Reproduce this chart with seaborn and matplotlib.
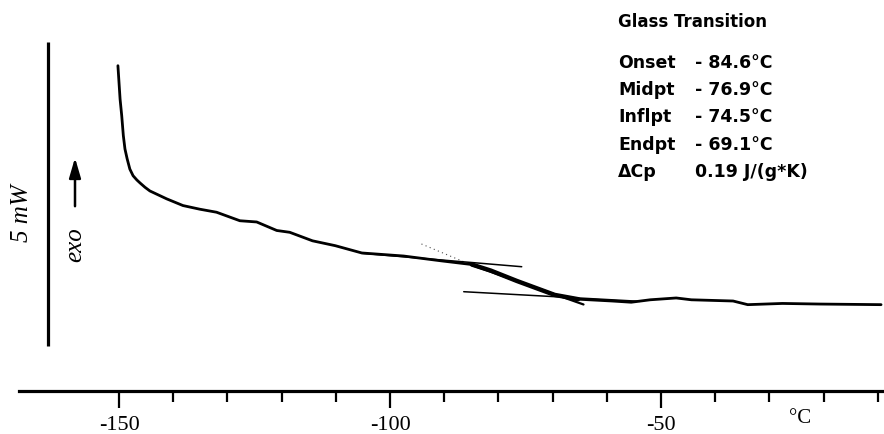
import numpy as np
import pandas as pd
import matplotlib
matplotlib.use("Agg")
import matplotlib.pyplot as plt
from matplotlib.ticker import FixedLocator
import seaborn as sns

# ---- data ----
temp_c = [-150.2, -149.8, -149.5, -149.2, -148.9, -148.5, -148.0, -147.4, -146.7,
          -146.1, -145.2, -144.3, -141.2, -138.2, -135.1, -132.0, -127.7, -124.6,
          -120.9, -118.5, -114.3, -110.1, -105.2, -97.5, -90.5, -84.9, -81.4, -76.6,
          -69.6, -65.3, -59.0, -55.5, -52.0, -47.2, -44.4, -36.7, -34.0, -27.6,
          -20.7, -9.4]
heat_flow_mw = [4.61, 4.06, 3.79, 3.46, 3.24, 3.08, 2.91, 2.80, 2.73,
                2.68, 2.61, 2.55, 2.42, 2.31, 2.25, 2.20, 2.06, 2.04,
                1.90, 1.87, 1.73, 1.65, 1.53, 1.48, 1.40, 1.34, 1.24, 1.07,
                0.84, 0.77, 0.74, 0.72, 0.76, 0.79, 0.76, 0.74, 0.68, 0.70,
                0.69, 0.68]

# tangent construction lines (T, mW)
upper_tan_t = [-105.2, -75.7]
upper_tan_y = [1.525, 1.304]
lower_tan_t = [-86.4, -53.9]
lower_tan_y = [0.893, 0.735]
infl_tan_t = [-94.2, -84.9, -64.3]
infl_tan_y = [1.678, 1.330, 0.683]

major_ticks = [-150, -100, -50]
minor_ticks = [-140, -130, -120, -110, -90, -80, -70, -60, -40, -30, -20, -10]
scale_bar_mw = [0, 5]

result_names = ["Onset", "Midpt", "Inflpt", "Endpt", "\u0394Cp"]
result_values = ["- 84.6\u00b0C", "- 76.9\u00b0C", "- 74.5\u00b0C", "- 69.1\u00b0C", "0.19 J/(g*K)"]

df = pd.DataFrame({"T": temp_c, "HF": heat_flow_mw})

sns.set_style("white")
plt.rcParams["font.family"] = ["DejaVu Sans"]
plt.rcParams["axes.unicode_minus"] = False
plt.rcParams["text.color"] = "black"
plt.rcParams["xtick.color"] = "black"

W, H = 884, 435
fig = plt.figure(figsize=(W / 100, H / 100), dpi=100)
ax = fig.add_axes([19 / W, (H - 392) / H, 1 - 19 / W, 392 / H])
ax.set_xlim(-168.45, -8.86)
ax.set_ylim(-0.740, 5.707)

sns.lineplot(data=df, x="T", y="HF", ax=ax, color="black", linewidth=2.0,
             sort=False, estimator=None)
# highlighted transition portion
seg = df[(df["T"] >= -86) & (df["T"] <= -64)]
ax.plot(seg["T"], seg["HF"], color="black", lw=3.2, solid_capstyle="round")

# tangents
ax.plot(upper_tan_t, upper_tan_y, color="black", lw=1.1)
ax.plot(lower_tan_t, lower_tan_y, color="black", lw=1.1)
ax.plot(infl_tan_t[:2], infl_tan_y[:2], color="black", lw=0.8, ls=(0, (1, 3)), alpha=0.7)
ax.plot(infl_tan_t[1:], infl_tan_y[1:], color="black", lw=1.6)

# scale bar
ax.plot([-163.1, -163.1], scale_bar_mw, color="black", lw=2.3, solid_capstyle="butt")

# spines / ticks
for s in ["left", "top", "right"]:
    ax.spines[s].set_visible(False)
ax.spines["bottom"].set_linewidth(2.3)
ax.spines["bottom"].set_color("black")
ax.set_yticks([])
ax.xaxis.set_major_locator(FixedLocator(major_ticks))
ax.xaxis.set_minor_locator(FixedLocator(minor_ticks))
ax.set_xticklabels([str(t) for t in major_ticks])
ax.tick_params(axis="x", which="major", direction="out", length=12, width=1.6,
               pad=5, colors="black", labelsize=16, bottom=True)
ax.tick_params(axis="x", which="minor", direction="out", length=8, width=1.6,
               colors="black", bottom=True)
for lab in ax.get_xticklabels():
    lab.set_fontfamily("Liberation Serif")
ax.set_xlabel("")
ax.set_ylabel("")

def fx(px):
    return px / W

def fy(py):
    return 1 - py / H

fig.text(fx(800), fy(419), "\u00b0C", family="Liberation Serif", fontsize=15,
         ha="center", va="center", color="black")

fig.text(fx(22), fy(213), "5 mW", family="Liberation Serif", style="italic",
         fontsize=18, rotation=90, ha="center", va="center", color="black")
fig.text(fx(75), fy(245), "exo", family="Liberation Serif", style="italic",
         fontsize=18, rotation=90, ha="center", va="center", color="black")
fig.add_artist(matplotlib.patches.FancyArrowPatch(
    (fx(75), fy(210)), (fx(75), fy(156)), transform=fig.transFigure,
    arrowstyle="-|>,head_length=12,head_width=3.5", color="black", lw=1.8,
    mutation_scale=1))

fig.text(fx(618), fy(22), "Glass Transition", fontsize=12, weight="bold",
         ha="left", va="center", color="black")
rows_y = [63, 90, 117, 145, 172]
for name, val, yy in zip(result_names, result_values, rows_y):
    fig.text(fx(618), fy(yy), name, fontsize=12.5, weight="bold", ha="left",
             va="center", color="black")
    fig.text(fx(695), fy(yy), val, fontsize=12.5, weight="bold", ha="left",
             va="center", color="black")

fig.savefig("out.png", dpi=100)
